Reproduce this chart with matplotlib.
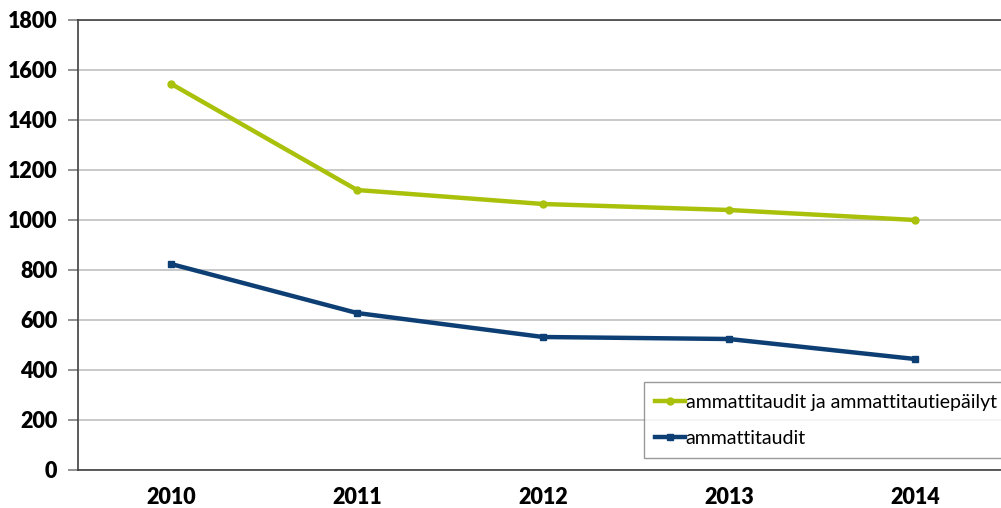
import numpy as np
import matplotlib.pyplot as plt

vuodet = ["2010", "2011", "2012", "2013", "2014"]
kaikki = [1545, 1120, 1064, 1040, 1000]
ammattitaudit = [824, 628, 532, 524, 444]
nimet = ["ammattitaudit ja ammattitautiepäilyt", "ammattitaudit"]

plt.rcParams['font.family'] = ['Lato', 'DejaVu Sans']

fig = plt.figure(figsize=(10.01, 5.08), dpi=100)
ax = fig.add_axes([78 / 1001, 38 / 508, 923 / 1001, 450 / 508])

x = np.arange(len(vuodet))
ax.plot(x, kaikki, color="#a9c10a", lw=3.2, marker="o", ms=5, label=nimet[0], zorder=3)
ax.plot(x, ammattitaudit, color="#0d3f74", lw=3.2, marker="s", ms=5, label=nimet[1], zorder=3)

ax.set_xlim(-0.5, 4.5 - 7 / 186)
ax.set_ylim(0, 1800)
ax.set_yticks(range(0, 1801, 200))
ax.set_xticks(x)
ax.set_xticklabels(vuodet)
ax.grid(axis="y", color="#c0c0c0", lw=1.2)
ax.set_axisbelow(True)

for s in ["left", "bottom", "top"]:
    ax.spines[s].set_color("#404040")
    ax.spines[s].set_linewidth(1.2)
ax.spines["right"].set_visible(False)
ax.tick_params(axis="y", length=7, width=1.2, color="#808080", labelsize=15.5, pad=8)
ax.tick_params(axis="x", length=0, labelsize=15.5, pad=12)
for t in ax.get_xticklabels() + ax.get_yticklabels():
    t.set_fontweight("heavy")

leg = ax.legend(loc="lower left", bbox_to_anchor=(0.613, 0.026), fontsize=14,
                frameon=True, fancybox=False, edgecolor="#808080", handlelength=1.5,
                handletextpad=0.05, borderpad=0.6, labelspacing=0.95, borderaxespad=0)
leg.get_frame().set_linewidth(1.0)

fig.savefig("out.png", dpi=100)
